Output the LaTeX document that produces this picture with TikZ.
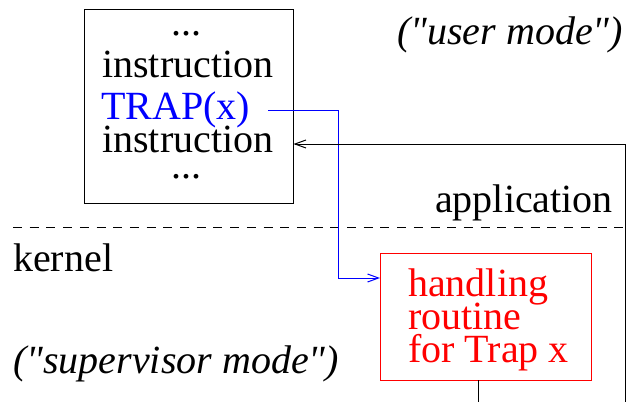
\documentclass[tikz,border=0pt]{standalone}
\usepackage{fontspec}
\setmainfont{Liberation Serif}
\newfontfamily\rawserif{Liberation Serif}
\usetikzlibrary{arrows.meta}
\tikzset{
  txt/.style={inner sep=0pt, anchor=base west, font=\fontsize{40}{44}\selectfont},
  ctxt/.style={inner sep=0pt, anchor=base, font=\fontsize{40}{44}\selectfont},
  itxt/.style={txt, font=\fontsize{40}{44}\selectfont\rawserif\itshape},
  boxshape/.style={draw, line width=1pt, inner sep=0pt, anchor=north west},
  conn/.style={line width=1pt, -{Straight Barb[length=11pt,width=8pt,line width=1pt]}},
}
\begin{document}
\begin{tikzpicture}[x=1pt,y=-1pt]
\useasboundingbox (0,0) rectangle (628,401);
\clip (0,0) rectangle (628,401);

% application box
\node[boxshape, minimum width=209pt, minimum height=193pt] (prog) at (83.5,9.5) {};
\node[ctxt] (dots1) at (186,36) {...};
\node[txt] (ins1) at (102,78) {instruction};
\node[txt, text=blue] (trap) at (101,119) {TRAP(x)};
\node[txt] (ins2) at (102,152) {instruction};
\node[ctxt] (dots2) at (186,178) {...};

% labels
\node[itxt] (user) at (397,45) {("user mode")};
\node[txt] (app) at (435,212) {application};
\node[txt] (kern) at (13,271) {kernel};
\node[itxt] (sup) at (13,373) {("supervisor mode")};

% separator
\draw[line width=1pt, dash pattern=on 9pt off 7.7pt] (13,227.7) -- (628,227.7);

% handler box
\node[boxshape, draw=red, minimum width=211pt, minimum height=127pt] (handler) at (380,253.3) {};
\node[txt, text=red] (h1) at (408,296) {handling};
\node[txt, text=red] (h2) at (408,329) {routine};
\node[txt, text=red] (h3) at (408,362) {for Trap x};

% connectors
\coordinate (trapout) at (268,110.7);
\coordinate (tcorner) at (338,110.7);
\coordinate (tin) at (338,278);
\draw[conn, blue] (trapout) -- (tcorner) -- (tin) -- (handler.west |- tin);

\coordinate (hout) at (478,380);
\coordinate (hdown) at (478,420);
\coordinate (rdown) at (625,420);
\coordinate (rup) at (625,144);
\draw[conn] (hout) -- (hdown) -- (rdown) -- (rup) -- (prog.east |- rup);
\end{tikzpicture}
\end{document}
